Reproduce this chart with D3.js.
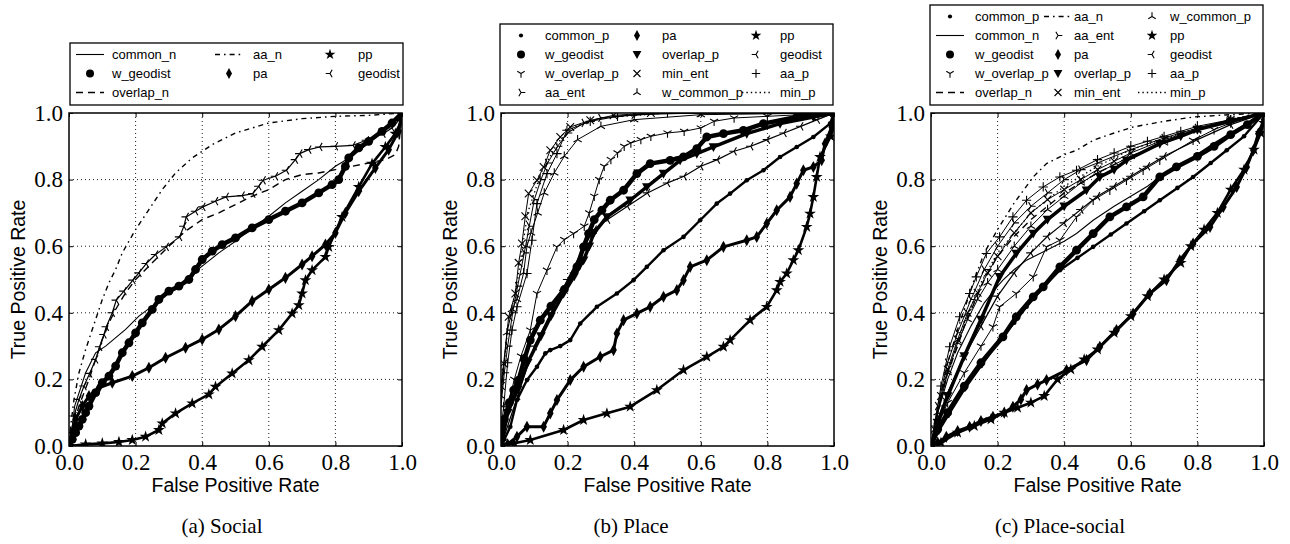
<!DOCTYPE html>
<html><head><meta charset="utf-8">
<script src="https://cdn.jsdelivr.net/npm/d3@7"></script>
<style>body{margin:0;background:#fff}svg{display:block}</style>
</head><body>
<svg id="chart" width="1290" height="544"></svg>
<script>
// ---------------- DATA ----------------
const ticks = [0, 0.2, 0.4, 0.6, 0.8, 1.0];
const captions = ["(a) Social", "(b) Place", "(c) Place-social"];
const xLabel = "False Positive Rate";
const yLabel = "True Positive Rate";

// (a) Social
const a_common_n = [[0,0],[0.01,0.06],[0.017,0.12],[0.05,0.22],[0.08,0.28],[0.11,0.30],[0.17,0.35],[0.21,0.39],[0.25,0.42],[0.3,0.46],[0.35,0.50],[0.4,0.54],[0.45,0.58],[0.5,0.615],[0.55,0.655],[0.6,0.69],[0.65,0.73],[0.7,0.765],[0.75,0.80],[0.8,0.84],[0.85,0.87],[0.9,0.91],[0.95,0.95],[1,1]];
const a_w_geodist = [[0,0],[0.01,0.02],[0.02,0.04],[0.03,0.06],[0.04,0.08],[0.05,0.1],[0.06,0.12],[0.08,0.16],[0.1,0.19],[0.12,0.21],[0.14,0.24],[0.16,0.28],[0.18,0.31],[0.2,0.34],[0.22,0.37],[0.25,0.41],[0.27,0.44],[0.3,0.465],[0.33,0.48],[0.36,0.5],[0.38,0.53],[0.4,0.56],[0.43,0.585],[0.46,0.605],[0.5,0.625],[0.55,0.655],[0.6,0.68],[0.65,0.705],[0.7,0.73],[0.75,0.76],[0.79,0.785],[0.81,0.8],[0.83,0.84],[0.84,0.865],[0.87,0.895],[0.9,0.915],[0.94,0.945],[0.97,0.97],[1,1]];
const a_overlap_n = [[0,0],[0.01,0.05],[0.03,0.12],[0.06,0.2],[0.08,0.26],[0.1,0.32],[0.12,0.37],[0.14,0.41],[0.17,0.46],[0.2,0.5],[0.25,0.55],[0.3,0.6],[0.35,0.645],[0.4,0.68],[0.45,0.70],[0.5,0.725],[0.55,0.75],[0.6,0.77],[0.65,0.80],[0.7,0.815],[0.75,0.82],[0.8,0.83],[0.85,0.84],[0.9,0.85],[0.95,0.86],[0.98,0.875],[0.99,0.9],[1,1]];
const a_aa_n = [[0,0],[0.005,0.06],[0.015,0.14],[0.03,0.22],[0.05,0.29],[0.08,0.38],[0.1,0.44],[0.12,0.49],[0.14,0.53],[0.16,0.58],[0.2,0.65],[0.24,0.71],[0.28,0.77],[0.32,0.82],[0.37,0.865],[0.43,0.905],[0.5,0.94],[0.6,0.97],[0.7,0.983],[0.8,0.99],[0.9,0.993],[1,1]];
const a_pa = [[0,0],[0.01,0.04],[0.02,0.08],[0.04,0.12],[0.06,0.15],[0.09,0.175],[0.13,0.19],[0.19,0.21],[0.24,0.235],[0.29,0.265],[0.35,0.295],[0.4,0.32],[0.45,0.35],[0.5,0.39],[0.55,0.435],[0.6,0.47],[0.65,0.505],[0.7,0.545],[0.73,0.57],[0.77,0.605],[0.8,0.64],[0.83,0.70],[0.87,0.765],[0.92,0.835],[0.96,0.89],[0.99,0.945],[1,1]];
const a_pp = [[0,0],[0.05,0.005],[0.1,0.008],[0.15,0.012],[0.19,0.018],[0.23,0.028],[0.27,0.048],[0.28,0.068],[0.32,0.098],[0.37,0.128],[0.42,0.155],[0.44,0.178],[0.49,0.218],[0.54,0.258],[0.58,0.298],[0.63,0.348],[0.67,0.398],[0.69,0.423],[0.70,0.458],[0.71,0.498],[0.73,0.528],[0.77,0.568],[0.78,0.598],[0.82,0.688],[0.87,0.778],[0.91,0.848],[0.95,0.898],[0.98,0.938],[1,0.98]];
const a_geodist = [[0,0],[0.007,0.04],[0.015,0.09],[0.03,0.14],[0.045,0.18],[0.062,0.218],[0.08,0.26],[0.092,0.298],[0.105,0.335],[0.112,0.358],[0.13,0.4],[0.142,0.438],[0.165,0.465],[0.192,0.498],[0.21,0.52],[0.232,0.548],[0.26,0.575],[0.292,0.598],[0.332,0.628],[0.345,0.66],[0.352,0.688],[0.38,0.705],[0.402,0.718],[0.44,0.735],[0.472,0.748],[0.52,0.752],[0.552,0.758],[0.57,0.78],[0.583,0.798],[0.62,0.81],[0.653,0.828],[0.68,0.86],[0.693,0.878],[0.72,0.89],[0.753,0.898],[0.8,0.9],[0.853,0.903],[0.893,0.918],[0.943,0.938],[0.97,0.955],[0.99,0.978],[1,1]];

// (b) Place
const b_common_p = [[0,0],[0.01,0.02],[0.028,0.058],[0.048,0.138],[0.078,0.198],[0.108,0.238],[0.133,0.278],[0.148,0.288],[0.178,0.30],[0.208,0.318],[0.238,0.368],[0.288,0.418],[0.348,0.458],[0.398,0.498],[0.438,0.538],[0.488,0.588],[0.548,0.628],[0.598,0.678],[0.648,0.728],[0.688,0.758],[0.738,0.798],[0.788,0.828],[0.838,0.868],[0.888,0.898],[0.938,0.928],[0.988,0.968],[1,1]];
const b_w_geodist = [[0,0.02],[0.01,0.08],[0.025,0.13],[0.038,0.168],[0.053,0.198],[0.07,0.26],[0.088,0.318],[0.118,0.378],[0.15,0.42],[0.19,0.47],[0.228,0.538],[0.248,0.598],[0.263,0.638],[0.28,0.68],[0.303,0.708],[0.328,0.738],[0.368,0.768],[0.408,0.818],[0.448,0.848],[0.508,0.858],[0.548,0.868],[0.588,0.893],[0.618,0.928],[0.668,0.938],[0.728,0.948],[0.788,0.968],[0.888,0.988],[1,1]];
const b_w_overlap_p = [[0,0.03],[0.02,0.12],[0.04,0.2],[0.06,0.27],[0.088,0.348],[0.108,0.458],[0.138,0.528],[0.168,0.598],[0.19,0.62],[0.218,0.638],[0.25,0.66],[0.265,0.70],[0.28,0.75],[0.295,0.80],[0.31,0.84],[0.33,0.86],[0.35,0.88],[0.37,0.90],[0.39,0.91],[0.42,0.92],[0.45,0.93],[0.5,0.94],[0.55,0.945],[0.6,0.955],[0.64,0.975],[0.7,0.985],[0.8,0.99],[0.9,0.995],[1,1]];
const b_aa_ent = [[0,0.12],[0.01,0.22],[0.02,0.3],[0.035,0.4],[0.05,0.48],[0.07,0.58],[0.085,0.66],[0.1,0.74],[0.12,0.8],[0.14,0.85],[0.17,0.9],[0.2,0.94],[0.25,0.97],[0.3,0.985],[0.4,0.995],[0.6,1],[1,1]];
const b_pa = [[0,0],[0.02,0.005],[0.048,0.028],[0.078,0.058],[0.128,0.058],[0.148,0.098],[0.168,0.138],[0.208,0.198],[0.248,0.238],[0.298,0.268],[0.338,0.288],[0.348,0.338],[0.368,0.378],[0.408,0.398],[0.448,0.418],[0.488,0.448],[0.528,0.468],[0.548,0.498],[0.568,0.538],[0.618,0.558],[0.668,0.598],[0.738,0.618],[0.768,0.628],[0.798,0.668],[0.828,0.708],[0.868,0.748],[0.888,0.788],[0.908,0.828],[0.938,0.838],[0.963,0.858],[0.973,0.908],[0.993,0.958],[1,1]];
const b_overlap_p = [[0,0],[0.02,0.1],[0.05,0.17],[0.08,0.25],[0.12,0.33],[0.15,0.39],[0.188,0.458],[0.22,0.51],[0.248,0.558],[0.265,0.60],[0.278,0.638],[0.318,0.688],[0.388,0.738],[0.438,0.778],[0.488,0.818],[0.538,0.858],[0.588,0.878],[0.638,0.898],[0.738,0.938],[0.838,0.968],[0.938,0.988],[1,1]];
const b_min_ent = [[0,0.18],[0.008,0.248],[0.023,0.388],[0.043,0.458],[0.053,0.55],[0.063,0.608],[0.073,0.69],[0.083,0.758],[0.108,0.798],[0.128,0.838],[0.148,0.888],[0.178,0.928],[0.208,0.958],[0.268,0.978],[0.338,0.993],[0.45,1],[1,1]];
const b_w_common_p = [[0,0.15],[0.018,0.34],[0.033,0.41],[0.048,0.44],[0.068,0.52],[0.078,0.60],[0.09,0.64],[0.11,0.70],[0.13,0.76],[0.16,0.82],[0.19,0.87],[0.23,0.92],[0.3,0.96],[0.4,0.98],[0.6,0.995],[1,1]];
const b_pp = [[0,0],[0.04,0.008],[0.088,0.018],[0.188,0.048],[0.248,0.078],[0.318,0.098],[0.388,0.118],[0.468,0.168],[0.548,0.228],[0.618,0.268],[0.668,0.298],[0.688,0.318],[0.748,0.378],[0.798,0.418],[0.828,0.468],[0.838,0.493],[0.858,0.518],[0.878,0.558],[0.893,0.588],[0.918,0.658],[0.928,0.698],[0.938,0.748],[0.948,0.808],[0.958,0.868],[0.99,0.93],[1,0.96]];
const b_geodist = [[0,0],[0.05,0.15],[0.1,0.3],[0.15,0.4],[0.2,0.5],[0.25,0.6],[0.28,0.65],[0.32,0.68],[0.38,0.72],[0.44,0.76],[0.5,0.79],[0.55,0.81],[0.6,0.84],[0.65,0.86],[0.7,0.885],[0.75,0.90],[0.8,0.92],[0.85,0.94],[0.9,0.96],[0.95,0.98],[1,1]];
const b_aa_p = [[0,0.05],[0.008,0.118],[0.02,0.25],[0.033,0.348],[0.048,0.418],[0.078,0.518],[0.093,0.618],[0.108,0.728],[0.138,0.818],[0.168,0.878],[0.198,0.948],[0.268,0.975],[0.35,0.99],[0.5,1],[1,1]];
const b_min_p = [[0,0.15],[0.02,0.35],[0.05,0.5],[0.08,0.7],[0.12,0.82],[0.17,0.91],[0.22,0.96],[0.3,0.985],[0.5,1],[1,1]];

// (c) Place-social
const c_common_p = [[0,0],[0.02,0.04],[0.05,0.09],[0.1,0.17],[0.15,0.24],[0.206,0.318],[0.25,0.37],[0.287,0.418],[0.34,0.48],[0.387,0.528],[0.44,0.565],[0.487,0.598],[0.54,0.635],[0.587,0.668],[0.64,0.705],[0.687,0.738],[0.74,0.775],[0.787,0.808],[0.84,0.85],[0.888,0.888],[0.94,0.93],[1,1]];
const c_common_n = [[0,0],[0.02,0.1],[0.05,0.2],[0.08,0.28],[0.12,0.36],[0.16,0.43],[0.2,0.48],[0.216,0.498],[0.25,0.53],[0.287,0.558],[0.347,0.588],[0.4,0.615],[0.437,0.638],[0.487,0.678],[0.55,0.72],[0.6,0.75],[0.65,0.78],[0.687,0.808],[0.75,0.845],[0.787,0.868],[0.85,0.91],[0.9,0.94],[0.95,0.97],[1,1]];
const c_w_geodist = [[0,0],[0.02,0.05],[0.05,0.1],[0.1,0.18],[0.15,0.25],[0.216,0.328],[0.256,0.388],[0.307,0.448],[0.337,0.478],[0.387,0.538],[0.437,0.588],[0.487,0.638],[0.537,0.688],[0.587,0.718],[0.637,0.748],[0.687,0.808],[0.737,0.838],[0.8,0.87],[0.85,0.9],[0.9,0.935],[0.95,0.965],[1,1]];
const c_w_overlap_p = [[0,0],[0.02,0.06],[0.05,0.13],[0.1,0.22],[0.15,0.30],[0.186,0.358],[0.206,0.418],[0.256,0.458],[0.307,0.508],[0.347,0.598],[0.387,0.618],[0.437,0.688],[0.487,0.738],[0.537,0.768],[0.587,0.798],[0.637,0.828],[0.687,0.858],[0.787,0.918],[0.85,0.95],[0.9,0.97],[1,1]];
const c_overlap_n = [[0,0],[0.02,0.1],[0.05,0.22],[0.08,0.30],[0.1,0.36],[0.13,0.43],[0.16,0.5],[0.2,0.57],[0.25,0.63],[0.3,0.68],[0.35,0.72],[0.4,0.76],[0.45,0.79],[0.5,0.82],[0.6,0.87],[0.7,0.91],[0.8,0.95],[0.9,0.98],[1,1]];
const c_aa_n = [[0,0],[0.02,0.1],[0.05,0.25],[0.08,0.35],[0.1,0.41],[0.13,0.5],[0.16,0.58],[0.2,0.65],[0.25,0.73],[0.307,0.808],[0.347,0.848],[0.4,0.875],[0.437,0.888],[0.487,0.918],[0.55,0.94],[0.607,0.958],[0.7,0.975],[0.788,0.988],[0.9,0.995],[1,1]];
const c_aa_ent = [[0,0],[0.02,0.12],[0.05,0.25],[0.08,0.34],[0.12,0.44],[0.16,0.53],[0.2,0.60],[0.25,0.67],[0.3,0.72],[0.35,0.76],[0.4,0.80],[0.45,0.83],[0.5,0.85],[0.6,0.89],[0.7,0.925],[0.8,0.955],[0.9,0.98],[1,1]];
const c_pa = [[0,0],[0.02,0.01],[0.046,0.028],[0.08,0.045],[0.116,0.058],[0.15,0.075],[0.186,0.088],[0.22,0.10],[0.246,0.118],[0.27,0.14],[0.287,0.168],[0.32,0.185],[0.347,0.198],[0.407,0.228],[0.467,0.258],[0.507,0.298],[0.557,0.348],[0.607,0.398],[0.657,0.458],[0.707,0.498],[0.747,0.558],[0.787,0.608],[0.838,0.658],[0.878,0.718],[0.918,0.778],[0.948,0.838],[0.968,0.888],[0.983,0.938],[1,0.98]];
const c_overlap_p = [[0,0],[0.02,0.07],[0.05,0.15],[0.1,0.27],[0.15,0.38],[0.206,0.508],[0.256,0.578],[0.307,0.638],[0.35,0.68],[0.4,0.72],[0.467,0.768],[0.507,0.808],[0.55,0.83],[0.587,0.858],[0.687,0.908],[0.75,0.93],[0.8,0.95],[0.9,0.975],[1,1]];
const c_min_ent = [[0,0],[0.01,0.05],[0.03,0.15],[0.05,0.23],[0.08,0.32],[0.11,0.40],[0.14,0.46],[0.17,0.52],[0.2,0.57],[0.25,0.64],[0.3,0.70],[0.35,0.74],[0.4,0.77],[0.45,0.80],[0.5,0.83],[0.55,0.855],[0.6,0.88],[0.7,0.92],[0.8,0.95],[0.9,0.98],[1,1]];
const c_w_common_p = [[0,0],[0.02,0.1],[0.05,0.22],[0.08,0.31],[0.11,0.38],[0.14,0.44],[0.17,0.49],[0.2,0.53],[0.25,0.60],[0.3,0.66],[0.35,0.71],[0.4,0.75],[0.45,0.79],[0.5,0.82],[0.6,0.87],[0.7,0.91],[0.8,0.95],[0.9,0.98],[1,1]];
const c_pp = [[0,0],[0.03,0.01],[0.08,0.04],[0.13,0.06],[0.18,0.08],[0.22,0.10],[0.26,0.115],[0.3,0.13],[0.34,0.15],[0.38,0.20],[0.42,0.23],[0.46,0.26],[0.5,0.29],[0.55,0.34],[0.6,0.39],[0.65,0.45],[0.7,0.50],[0.75,0.55],[0.78,0.60],[0.82,0.65],[0.86,0.70],[0.9,0.77],[0.94,0.83],[0.97,0.89],[0.99,0.94],[1,0.97]];
const c_geodist = [[0,0],[0.02,0.08],[0.05,0.16],[0.1,0.27],[0.15,0.36],[0.2,0.45],[0.25,0.52],[0.3,0.58],[0.35,0.63],[0.4,0.67],[0.45,0.71],[0.5,0.75],[0.55,0.78],[0.6,0.81],[0.65,0.84],[0.7,0.87],[0.8,0.92],[0.9,0.965],[1,1]];
const c_aa_p = [[0,0],[0.01,0.06],[0.03,0.18],[0.056,0.298],[0.086,0.388],[0.116,0.458],[0.136,0.508],[0.166,0.578],[0.206,0.628],[0.246,0.688],[0.287,0.738],[0.337,0.778],[0.387,0.808],[0.437,0.828],[0.5,0.86],[0.55,0.88],[0.6,0.90],[0.65,0.915],[0.7,0.93],[0.75,0.945],[0.8,0.96],[0.9,0.98],[1,1]];
const c_min_p = [[0,0],[0.02,0.1],[0.05,0.22],[0.1,0.37],[0.15,0.49],[0.2,0.58],[0.3,0.7],[0.4,0.78],[0.5,0.84],[0.6,0.89],[0.8,0.955],[1,1]];

// ---------------- STYLES (per series name) ----------------
const styles = {
  common_n:{type:"line", dash:null, w:1.1},
  overlap_n:{type:"line", dash:"7,5", w:1.4},
  aa_n:{type:"line", dash:"5,4,1.6,4", w:1.4},
  min_p:{type:"line", dash:"1.4,3", w:1.3},
  common_p:{type:"marker", m:"point", band:2.4},
  w_geodist:{type:"marker", m:"circle", band:4.5},
  w_overlap_p:{type:"marker", m:"tri_down", band:1},
  aa_ent:{type:"marker", m:"tri_right", band:1},
  pa:{type:"marker", m:"thin_diamond", band:3},
  overlap_p:{type:"marker", m:"triangle_down", band:3.5},
  min_ent:{type:"marker", m:"x", band:1},
  w_common_p:{type:"marker", m:"tri_up", band:1},
  pp:{type:"marker", m:"star", band:2.6},
  geodist:{type:"marker", m:"tri_left", band:1.2},
  aa_p:{type:"marker", m:"plus", band:1}
};

const panels = [
  {left:69, capX:222, legend:{top:43, cols:[112,253,358], right:403, left:70, handleOff:[22,24,28]},
   order:[["common_n",a_common_n],["w_geodist",a_w_geodist],["overlap_n",a_overlap_n],["aa_n",a_aa_n],["pa",a_pa],["pp",a_pp],["geodist",a_geodist]],
   split:[3,2,2]},
  {left:501, capX:631, legend:{top:24, cols:[545,662,780], right:833, left:500, handleOff:[24,25,24]},
   order:[["common_p",b_common_p],["w_geodist",b_w_geodist],["w_overlap_p",b_w_overlap_p],["aa_ent",b_aa_ent],["pa",b_pa],["overlap_p",b_overlap_p],["min_ent",b_min_ent],["w_common_p",b_w_common_p],["pp",b_pp],["geodist",b_geodist],["aa_p",b_aa_p],["min_p",b_min_p]],
   split:[4,4,4]},
  {left:931, capX:1060, legend:{top:5, cols:[975,1074,1170], right:1263, left:930, handleOff:[25,16,18]},
   order:[["common_p",c_common_p],["common_n",c_common_n],["w_geodist",c_w_geodist],["w_overlap_p",c_w_overlap_p],["overlap_n",c_overlap_n],["aa_n",c_aa_n],["aa_ent",c_aa_ent],["pa",c_pa],["overlap_p",c_overlap_p],["min_ent",c_min_ent],["w_common_p",c_w_common_p],["pp",c_pp],["geodist",c_geodist],["aa_p",c_aa_p],["min_p",c_min_p]],
   split:[5,5,5]}
];

// ---------------- DRAW ----------------
const svg = d3.select("#chart");
const W = 333, TOP = 113, BOT = 446;
const serif = "'Liberation Serif', 'DejaVu Serif', serif";
const sans = "'Liberation Sans', Arial, sans-serif";

function tri(dirs, r){ return dirs.map(a=>`M0,0L${(r*Math.cos(a)).toFixed(2)},${(r*Math.sin(a)).toFixed(2)}`).join(""); }
function drawMarker(g, m, x, y, legend){
  const k = legend ? 1.0 : 1.1;
  switch(m){
    case "point": g.append("circle").attr("cx",x).attr("cy",y).attr("r",2.1*k).attr("fill","#000"); break;
    case "circle": g.append("circle").attr("cx",x).attr("cy",y).attr("r",4*k).attr("fill","#000"); break;
    case "thin_diamond": g.append("path").attr("d",`M0,${-5.5*k}L${3*k},0L0,${5.5*k}L${-3*k},0Z`).attr("transform",`translate(${x},${y})`).attr("fill","#000"); break;
    case "triangle_down": g.append("path").attr("d",`M${-4.4*k},${-3.4*k}L${4.4*k},${-3.4*k}L0,${4.6*k}Z`).attr("transform",`translate(${x},${y})`).attr("fill","#000"); break;
    case "star": g.append("path").attr("d",d3.symbol(d3.symbolStar, 36*k*k)()).attr("transform",`translate(${x},${y})`).attr("fill","#000"); break;
    case "x": g.append("path").attr("d",`M${-3.5*k},${-3.5*k}L${3.5*k},${3.5*k}M${-3.5*k},${3.5*k}L${3.5*k},${-3.5*k}`).attr("transform",`translate(${x},${y})`).attr("stroke","#000").attr("stroke-width",1.1); break;
    case "plus": g.append("path").attr("d",`M${-4.2*k},0L${4.2*k},0M0,${-4.2*k}L0,${4.2*k}`).attr("transform",`translate(${x},${y})`).attr("stroke","#000").attr("stroke-width",1.1); break;
    default: {
      const d2r = Math.PI/180;
      const dirs = {tri_down:[90,210,330], tri_up:[270,30,150], tri_left:[180,300,60], tri_right:[0,120,240]}[m].map(v=>v*d2r);
      g.append("path").attr("d",tri(dirs,4.3*k)).attr("transform",`translate(${x},${y})`).attr("stroke","#000").attr("stroke-width",1.1).attr("fill","none");
    }
  }
}

panels.forEach((p, pi) => {
  const x = d3.scaleLinear().domain([0,1]).range([p.left, p.left+W]);
  const y = d3.scaleLinear().domain([0,1]).range([BOT, TOP]);
  const g = svg.append("g");
  const clipId = "clip"+pi;
  svg.append("clipPath").attr("id",clipId).append("rect").attr("x",p.left).attr("y",TOP).attr("width",W).attr("height",BOT-TOP);

  // grid
  const grid = g.append("g").attr("stroke","#000").attr("stroke-width",0.9).attr("stroke-dasharray","1,3");
  ticks.slice(1,-1).forEach(t=>{
    grid.append("line").attr("x1",x(t)).attr("x2",x(t)).attr("y1",TOP).attr("y2",BOT);
    grid.append("line").attr("x1",p.left).attr("x2",p.left+W).attr("y1",y(t)).attr("y2",y(t));
  });

  // series
  const data = g.append("g").attr("clip-path",`url(#${clipId})`);
  const line = d3.line().x(d=>x(d[0])).y(d=>y(d[1]));
  p.order.forEach(([name, pts])=>{
    const s = styles[name];
    if (s.type === "line") {
      data.append("path").attr("d",line(pts)).attr("fill","none").attr("stroke","#000").attr("stroke-width",s.w)
        .attr("stroke-dasharray", s.dash);
    } else {
      data.append("path").attr("d",line(pts)).attr("fill","none").attr("stroke","#000").attr("stroke-width",s.band)
        .attr("stroke-linejoin","round").attr("stroke-linecap","round");
      const mg = data.append("g");
      pts.forEach(d=>drawMarker(mg, s.m, x(d[0]), y(d[1]), false));
    }
  });

  // axes
  const fmt = d3.format(".1f");
  const ax = g.append("g").attr("transform",`translate(0,${BOT})`)
    .call(d3.axisBottom(x).tickValues(ticks).tickFormat(fmt).tickSizeInner(-4).tickSizeOuter(0).tickPadding(8));
  const ay = g.append("g").attr("transform",`translate(${p.left},0)`)
    .call(d3.axisLeft(y).tickValues(ticks).tickFormat(fmt).tickSizeInner(-4).tickSizeOuter(0).tickPadding(6));
  const at = g.append("g").attr("transform",`translate(0,${TOP})`)
    .call(d3.axisTop(x).tickValues(ticks).tickFormat("").tickSizeInner(-4).tickSizeOuter(0));
  const ar = g.append("g").attr("transform",`translate(${p.left+W},0)`)
    .call(d3.axisRight(y).tickValues(ticks).tickFormat("").tickSizeInner(-4).tickSizeOuter(0));
  [ax,ay,at,ar].forEach(a=>{ a.select(".domain").remove(); a.selectAll("line").attr("stroke","#000"); });
  [ax,ay].forEach(a=>a.selectAll("text").attr("font-family",serif).attr("font-size",23).attr("fill","#000"));

  // frame
  g.append("rect").attr("x",p.left).attr("y",TOP).attr("width",W).attr("height",BOT-TOP)
    .attr("fill","none").attr("stroke","#000").attr("stroke-width",1.5);

  // axis titles
  g.append("text").attr("x",p.left+W/2).attr("y",492).attr("text-anchor","middle")
    .attr("font-family",sans).attr("font-size",19.5).text(xLabel);
  g.append("text").attr("transform",`translate(${p.left-44},${(TOP+BOT)/2}) rotate(-90)`).attr("text-anchor","middle")
    .attr("font-family",sans).attr("font-size",19.5).text(yLabel);

  // caption
  g.append("text").attr("x",p.capX).attr("y",533).attr("text-anchor","middle")
    .attr("font-family",serif).attr("font-size",21).text(captions[pi]);

  // legend
  const L = p.legend;
  const rows = Math.max(...p.split);
  const rowH = 19;
  const lg = g.append("g");
  lg.append("rect").attr("x",L.left).attr("y",L.top).attr("width",L.right-L.left).attr("height",105-L.top)
    .attr("fill","#fff").attr("stroke","#000").attr("stroke-width",1.3);
  let idx = 0;
  p.split.forEach((n, ci)=>{
    for (let r=0; r<n; r++, idx++){
      const [name] = p.order[idx];
      const s = styles[name];
      const cy = 105 - (rows - r)*rowH + 6.5;
      const cx = L.cols[ci] - L.handleOff[ci];
      if (s.type === "line") {
        lg.append("line").attr("x1",cx-14).attr("x2",cx+14).attr("y1",cy).attr("y2",cy)
          .attr("stroke","#000").attr("stroke-width",s.w).attr("stroke-dasharray",s.dash);
      } else {
        drawMarker(lg, s.m, cx, cy, true);
      }
      lg.append("text").attr("x",L.cols[ci]).attr("y",cy).attr("dy","0.35em")
        .attr("font-family",sans).attr("font-size",13).text(name);
    }
  });
});
</script>
</body></html>
